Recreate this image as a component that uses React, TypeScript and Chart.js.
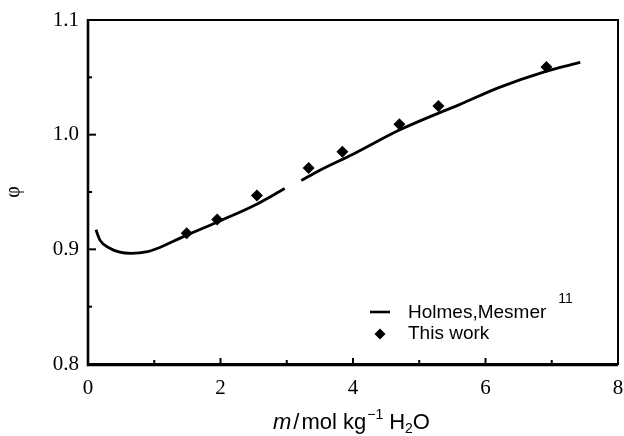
import { useEffect, useRef } from "react";
import { Chart, registerables } from "chart.js";
Chart.register(...registerables);

const curveM = [0.12, 0.18, 0.33, 0.48, 0.65, 0.9, 1.1, 1.4, 2.0, 2.5, 2.97, 3.1, 3.22, 3.5, 4.0, 4.7, 5.3, 5.6, 6.2, 6.9, 7.43];
const curvePhi = [0.917, 0.908, 0.901, 0.8975, 0.8965, 0.898, 0.902, 0.91, 0.925, 0.938, 0.953, null, 0.96, 0.969, 0.983, 1.004, 1.019, 1.026, 1.041, 1.055, 1.063];
const workM = [1.49, 1.95, 2.55, 3.33, 3.84, 4.7, 5.29, 6.92];
const workPhi = [0.914, 0.926, 0.947, 0.971, 0.985, 1.009, 1.025, 1.059];
const legendLabels = ["Holmes,Mesmer", "This work"];
const legendRef = "11";
const yTitle = "φ";

const SERIF = "'Liberation Serif', 'DejaVu Serif', serif";
const SANS = "'Liberation Sans', Arial, sans-serif";

const isMajorY = (v: number) => Math.abs(v * 10 - Math.round(v * 10)) < 1e-6;
const isMajorX = (v: number) => Math.abs(v / 2 - Math.round(v / 2)) < 1e-6;

const framePlugin = {
  id: "frame",
  afterDraw(chart: any) {
    const { ctx, chartArea: a, scales } = chart;
    ctx.save();
    ctx.strokeStyle = "#000";
    ctx.lineWidth = 2;
    ctx.strokeRect(a.left, a.top, a.right - a.left, a.bottom - a.top);
    ctx.lineWidth = 2.6;
    ctx.beginPath();
    ctx.moveTo(a.left, a.top - 1);
    ctx.lineTo(a.left, a.bottom + 1);
    ctx.lineTo(a.right, a.bottom + 1);
    ctx.stroke();
    ctx.lineWidth = 2;
    // inward ticks
    const xs = scales.x;
    xs.ticks.forEach((t: any) => {
      const px = xs.getPixelForValue(t.value);
      if (px <= a.left + 1 || px >= a.right - 1) return;
      const len = isMajorX(t.value) ? 6 : 4;
      ctx.beginPath();
      ctx.moveTo(px, a.bottom);
      ctx.lineTo(px, a.bottom - len);
      ctx.stroke();
    });
    const ys = scales.y;
    ys.ticks.forEach((t: any) => {
      const py = ys.getPixelForValue(t.value);
      if (py <= a.top + 1 || py >= a.bottom - 1) return;
      const len = isMajorY(t.value) ? 8 : 4;
      ctx.beginPath();
      ctx.moveTo(a.left, py);
      ctx.lineTo(a.left + len, py);
      ctx.stroke();
    });
    // x-axis title
    ctx.fillStyle = "#000";
    ctx.textBaseline = "alphabetic";
    ctx.textAlign = "left";
    let x = 273;
    const base = 429;
    ctx.font = "italic 22px " + SANS;
    ctx.fillText("m", x, base);
    x += ctx.measureText("m").width + 2;
    ctx.font = "22px " + SANS;
    ctx.fillText("/", x, base);
    x += ctx.measureText("/").width + 2;
    ctx.fillText("mol kg", x, base);
    x += ctx.measureText("mol kg").width;
    ctx.font = "14px " + SANS;
    ctx.fillText("−1", x + 1, base - 10);
    x += ctx.measureText("−1").width + 7;
    ctx.font = "22px " + SANS;
    ctx.fillText("H", x, base);
    x += ctx.measureText("H").width;
    ctx.font = "14px " + SANS;
    ctx.fillText("2", x, base + 4);
    x += ctx.measureText("2").width;
    ctx.font = "22px " + SANS;
    ctx.fillText("O", x, base);
    // legend
    ctx.lineWidth = 2.6;
    ctx.beginPath();
    ctx.moveTo(370, 312);
    ctx.lineTo(390, 312);
    ctx.stroke();
    ctx.beginPath();
    ctx.moveTo(380, 328.5);
    ctx.lineTo(385.5, 334);
    ctx.lineTo(380, 339.5);
    ctx.lineTo(374.5, 334);
    ctx.closePath();
    ctx.fill();
    ctx.font = "19px " + SANS;
    ctx.fillText(legendLabels[0], 408, 318);
    const w = ctx.measureText(legendLabels[0]).width;
    ctx.font = "14px " + SANS;
    ctx.fillText(legendRef, 408 + w + 12, 303);
    ctx.font = "19px " + SANS;
    ctx.fillText(legendLabels[1], 408, 339);
    ctx.restore();
  },
};

export default function App() {
  const ref = useRef<HTMLCanvasElement>(null);
  useEffect(() => {
    const chart = new Chart(ref.current!, {
      type: "line",
      data: {
        datasets: [
          {
            label: legendLabels[1],
            data: workM.map((m, i) => ({ x: m, y: workPhi[i] })),
            showLine: false,
            pointStyle: "rectRot",
            pointRadius: 6,
            backgroundColor: "#000",
            borderColor: "#000",
            borderWidth: 0,
            order: 0,
          },
          {
            label: legendLabels[0],
            data: curveM.map((m, i) => ({ x: m, y: curvePhi[i] as any })),
            borderColor: "#000",
            borderWidth: 2.8,
            pointRadius: 0,
            tension: 0.4,
            cubicInterpolationMode: "monotone",
            spanGaps: false,
            fill: false,
            order: 1,
          },
        ],
      },
      options: {
        animation: false,
        responsive: false,
        layout: { padding: { left: 0, top: 20, right: 6, bottom: 0 } },
        plugins: { legend: { display: false }, tooltip: { enabled: false } },
        scales: {
          x: {
            type: "linear",
            min: 0,
            max: 8,
            grid: { display: false, drawTicks: false },
            border: { display: false },
            ticks: {
              stepSize: 1,
              padding: 12,
              color: "#000",
              maxRotation: 0,
              autoSkip: false,
              font: { family: SERIF, size: 21 },
              callback: (v: any) => (isMajorX(Number(v)) ? String(v) : ""),
            },
            afterFit: (s: any) => {
              s.height = 72;
              s.paddingLeft = 0;
              s.paddingRight = 0;
            },
          },
          y: {
            type: "linear",
            min: 0.8,
            max: 1.1,
            grid: { display: false, drawTicks: false },
            border: { display: false },
            title: {
              display: true,
              text: yTitle,
              color: "#000",
              font: { family: SERIF, size: 20 },
              padding: { top: 2, bottom: 0 },
            },
            ticks: {
              stepSize: 0.05,
              padding: 9,
              color: "#000",
              autoSkip: false,
              font: { family: SERIF, size: 21 },
              callback: (v: any) => (isMajorY(Number(v)) ? Number(v).toFixed(1) : ""),
            },
            afterFit: (s: any) => {
              s.width = 88;
              s.paddingTop = 0;
              s.paddingBottom = 0;
            },
          },
        },
      },
      plugins: [framePlugin],
    });
    return () => chart.destroy();
  }, []);
  return (
    <div style={{ position: "absolute", left: 0, top: 0, width: 624, height: 436, background: "#fff" }}>
      <canvas ref={ref} width={624} height={436} />
    </div>
  );
}
